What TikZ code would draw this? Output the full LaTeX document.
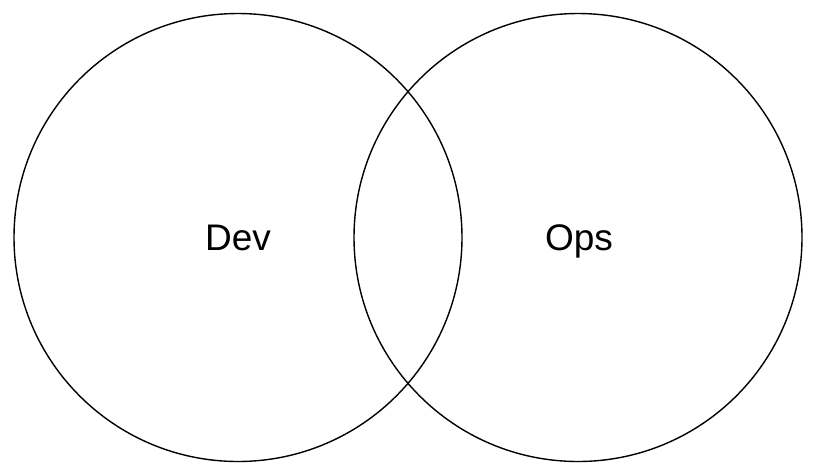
\documentclass[tikz,border=0pt]{standalone}
\usepackage{fontspec}
\setmainfont{Liberation Sans}

\begin{document}
\begin{tikzpicture}[x=1pt,y=-1pt,
  set/.style={draw,circle,line width=1.4pt,minimum size=448pt,inner sep=0pt},
  lab/.style={font=\fontsize{37}{40}\selectfont,inner sep=0pt,
    text height=26pt,text depth=0pt}]
  \useasboundingbox (0,0) rectangle (816,475);
  \node[set] (devset) at (238,237.5) {};
  \node[set] (opsset) at (578,237.5) {};
  \node[lab] (dev) at (devset.center) {Dev};
  \node[lab] (ops) at ([xshift=1pt]opsset.center) {Ops};
\end{tikzpicture}
\end{document}
